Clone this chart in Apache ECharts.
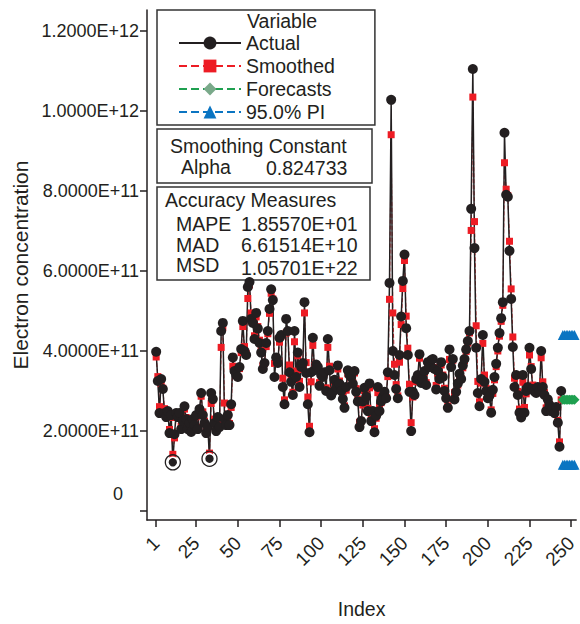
<!DOCTYPE html>
<html><head><meta charset="utf-8">
<script src="https://cdn.jsdelivr.net/npm/echarts@6/dist/echarts.min.js"></script>
<style>html,body{margin:0;padding:0;background:#fff}#c{width:580px;height:624px}</style>
</head><body><div id="c"></div>
<script>
// values in units of 1e11
const actual = [
3.98,3.25,2.45,3.30,3.05,2.45,2.35,2.50,1.95,2.40,
1.22,1.92,2.45,2.35,2.45,2.05,2.25,2.62,2.30,2.05,
2.20,1.98,2.30,2.15,2.40,2.05,2.55,2.95,2.40,2.20,
1.95,2.10,1.31,2.95,2.80,2.20,2.00,2.35,2.10,4.50,
4.70,2.30,2.15,2.40,2.15,2.67,3.84,3.50,3.40,3.35,
3.60,4.05,4.75,4.00,3.90,5.60,5.72,4.80,4.70,4.30,
4.95,4.56,4.20,3.96,3.55,3.70,4.20,4.50,5.05,5.54,
5.27,3.35,3.84,3.70,4.33,4.40,3.10,2.67,4.80,4.50,
3.47,3.23,2.90,4.50,3.35,3.96,3.10,3.60,3.70,5.22,
3.45,2.67,1.97,3.47,4.33,3.52,3.66,3.60,3.13,3.40,
3.35,3.47,3.00,4.30,3.52,2.89,2.98,3.28,3.10,3.64,
3.18,3.00,2.80,2.58,3.10,3.52,3.40,3.35,3.18,3.50,
2.98,2.74,2.10,2.25,2.74,3.08,2.86,2.50,3.19,2.25,
2.50,1.97,2.38,3.10,2.50,2.74,2.86,2.98,2.82,3.47,
5.70,10.27,4.00,3.40,3.05,2.82,3.90,4.86,5.75,6.41,
4.57,3.90,2.98,2.00,2.98,2.90,3.30,3.40,3.92,3.20,
3.30,3.50,3.15,3.72,3.60,3.77,3.80,3.55,3.04,3.50,
3.30,3.72,3.35,3.00,2.82,2.58,4.04,3.60,3.80,2.79,
2.98,3.19,3.43,3.30,3.64,3.80,4.04,4.25,4.50,7.55,
11.04,6.57,4.08,2.95,2.62,3.30,4.40,3.23,3.00,2.82,
2.88,2.46,3.03,3.35,3.68,4.08,4.45,4.82,5.22,9.45,
7.90,7.85,6.50,5.30,4.10,3.10,3.40,2.90,2.46,2.34,
3.40,2.46,3.00,3.10,4.08,3.55,3.05,2.99,2.95,3.10,
3.00,4.00,3.10,2.90,2.50,2.79,2.65,2.50,2.58,2.45,
2.60,2.21,1.61,3.00
];
const smoothed = [
3.85,3.36,2.61,3.18,3.07,2.56,2.39,2.48,2.04,2.34,
1.42,1.83,2.34,2.35,2.43,2.12,2.23,2.55,2.34,2.10,
2.18,2.02,2.25,2.17,2.36,2.10,2.47,2.87,2.48,2.25,
2.00,2.08,1.45,2.69,2.78,2.30,2.05,2.30,2.14,4.09,
4.59,2.70,2.25,2.37,2.19,2.59,3.62,3.52,3.42,3.36,
3.56,3.96,4.61,4.11,3.94,5.31,5.65,4.95,4.74,4.38,
4.85,4.61,4.27,4.01,3.63,3.69,4.11,4.43,4.94,5.44,
5.30,3.69,3.81,3.72,4.22,4.37,3.32,2.78,4.45,4.49,
3.65,3.30,2.97,4.23,3.50,3.88,3.24,3.54,3.67,4.95,
3.71,2.85,2.12,3.23,4.14,3.63,3.66,3.61,3.21,3.37,
3.35,3.45,3.08,4.09,3.62,3.02,2.99,3.23,3.12,3.55,
3.25,3.04,2.84,2.63,3.02,3.43,3.41,3.36,3.21,3.45,
3.06,2.80,2.22,2.25,2.65,3.01,2.89,2.57,3.08,2.40,
2.48,2.06,2.32,2.96,2.58,2.71,2.83,2.95,2.84,3.36,
5.29,9.40,4.95,3.67,3.16,2.88,3.72,4.66,5.56,6.26,
4.87,4.07,3.17,2.21,2.85,2.89,3.23,3.37,3.82,3.31,
3.30,3.47,3.21,3.63,3.61,3.74,3.79,3.59,3.14,3.44,
3.32,3.65,3.40,3.07,2.86,2.63,3.79,3.63,3.77,2.96,
2.98,3.15,3.38,3.31,3.58,3.76,3.99,4.20,4.45,7.01,
10.34,7.23,4.63,3.24,2.73,3.20,4.19,3.40,3.07,2.86,
2.88,2.53,2.94,3.28,3.61,4.00,4.37,4.74,5.14,8.70,
8.04,7.88,6.74,5.55,4.35,3.32,3.39,2.99,2.55,2.38,
3.22,2.59,2.93,3.07,3.90,3.61,3.15,3.02,2.96,3.08,
3.01,3.83,3.23,2.96,2.58,2.75,2.67,2.53,2.57,2.47,
2.58,2.27,1.73,2.78
];
const forecastIndex = [245,246,247,248,249,250,251,252];
const forecasts = [2.78,2.78,2.78,2.78,2.78,2.78,2.78,2.78];
const piUpper = [4.40,4.40,4.40,4.40,4.40,4.40,4.40,4.40];
const piLower = [1.16,1.16,1.16,1.16,1.16,1.16,1.16,1.16];
const circledIndex = [11, 33];
const xTicks = [1,25,50,75,100,125,150,175,200,225,250];
const yTicks = [0,2,4,6,8,10,12];
const unit = 1e11;
const alphaText = ['Smoothing Constant', 'Alpha', '0.824733'];
const accuracyText = ['Accuracy Measures', ['MAPE','1.85570E+01'], ['MAD','6.61514E+10'], ['MSD','1.05701E+22']];

const FONT = "'Liberation Sans', Arial, sans-serif";
const INK = '#231f20';
const RED = '#ed1c24', GREEN = '#1fa050', BLUE = '#0b75c2';

const chart = echarts.init(document.getElementById('c'), null, {renderer: 'svg'});

const actualData = actual.map((v, i) => {
  const idx = i + 1;
  if (circledIndex.includes(idx)) {
    return {value: [idx, v], itemStyle: {borderColor: '#fff', borderWidth: 1.6}};
  }
  return [idx, v];
});
const smoothedData = smoothed.map((v, i) => [i + 1, v]);

const option = {
  animation: false,
  backgroundColor: '#fff',
  textStyle: {fontFamily: FONT},
  grid: {left: 147, right: 0, top: 10, bottom: 94, containLabel: false},
  xAxis: {
    type: 'value', min: -4.5, max: 253,
    axisLine: {show: true, onZero: false, lineStyle: {color: INK, width: 1.5}},
    axisTick: {show: true, length: 7, customValues: xTicks, lineStyle: {color: INK, width: 1.5}},
    axisLabel: {customValues: xTicks, rotate: 45, fontSize: 19, color: INK, margin: 20, fontFamily: FONT},
    splitLine: {show: false},
    name: 'Index', nameLocation: 'middle', nameGap: 79,
    nameTextStyle: {fontSize: 19.5, color: INK, fontFamily: FONT}
  },
  yAxis: {
    type: 'value', min: -0.22, max: 12.514,
    axisLine: {show: true, onZero: false, lineStyle: {color: INK, width: 1.5}},
    axisTick: {show: true, length: 7, customValues: yTicks, lineStyle: {color: INK, width: 1.5}},
    axisLabel: {
      customValues: yTicks, fontSize: 18, color: INK, margin: 8, fontFamily: FONT,
      formatter: v => v === 0 ? '{z|0}' : (v * unit).toExponential(4).toUpperCase(),
      rich: {z: {fontSize: 18, color: INK, fontFamily: FONT, padding: [0, 16, 34, 0]}}
    },
    splitLine: {show: false},
    name: 'Electron concentration', nameLocation: 'middle', nameGap: 110, nameRotate: 90,
    nameTextStyle: {fontSize: 21, color: INK, fontFamily: FONT}
  },
  legend: {
    left: 157, top: 10, orient: 'vertical',
    padding: [23, 40, 3, 21],
    borderColor: '#333', borderWidth: 1.5,
    itemWidth: 62, itemHeight: 16, itemGap: 3,
    textStyle: {fontSize: 19.5, color: INK, fontFamily: FONT},
    data: [
      'Actual', 'Smoothed',
      {name: 'Forecasts', itemStyle: {color: '#7aa98a'}},
      '95.0% PI'
    ]
  },
  graphic: [
    {type: 'text', left: 247, top: 11, style: {text: 'Variable', fontSize: 19.5, fill: INK, fontFamily: FONT}},
    {type: 'rect', shape: {x: 157, y: 129, width: 215, height: 54}, style: {fill: 'none', stroke: '#333', lineWidth: 1.5}},
    {type: 'text', x: 170, y: 136, style: {text: alphaText[0], fontSize: 19.5, fill: INK, fontFamily: FONT}},
    {type: 'text', x: 181, y: 157, style: {text: alphaText[1], fontSize: 19.5, fill: INK, fontFamily: FONT}},
    {type: 'text', x: 266, y: 158, style: {text: alphaText[2], fontSize: 19.5, fill: INK, fontFamily: FONT}},
    {type: 'rect', shape: {x: 157, y: 187, width: 213, height: 93}, style: {fill: 'none', stroke: '#333', lineWidth: 1.5}},
    {type: 'text', x: 165, y: 190, style: {text: accuracyText[0], fontSize: 19.5, fill: INK, fontFamily: FONT}},
    {type: 'text', x: 176, y: 214, style: {text: accuracyText[1][0], fontSize: 19.5, fill: INK, fontFamily: FONT}},
    {type: 'text', x: 241, y: 214, style: {text: accuracyText[1][1], fontSize: 19.5, fill: INK, fontFamily: FONT}},
    {type: 'text', x: 176, y: 235, style: {text: accuracyText[2][0], fontSize: 19.5, fill: INK, fontFamily: FONT}},
    {type: 'text', x: 241, y: 235, style: {text: accuracyText[2][1], fontSize: 19.5, fill: INK, fontFamily: FONT}},
    {type: 'text', x: 176, y: 255, style: {text: accuracyText[3][0], fontSize: 19.5, fill: INK, fontFamily: FONT}},
    {type: 'text', x: 241, y: 258, style: {text: accuracyText[3][1], fontSize: 19.5, fill: INK, fontFamily: FONT}}
  ],
  series: [
    {
      name: 'Smoothed', type: 'line', data: smoothedData,
      symbol: 'rect', symbolSize: 7, showAllSymbol: true,
      lineStyle: {color: RED, width: 1, type: 'dashed'},
      itemStyle: {color: RED, borderWidth: 0}
    },
    {
      name: 'Actual', type: 'line', data: actualData,
      symbol: 'circle', symbolSize: 10, showAllSymbol: true,
      lineStyle: {color: INK, width: 1.5},
      itemStyle: {color: INK, borderWidth: 0},
      markPoint: {
        symbol: 'circle', symbolSize: 15, label: {show: false},
        itemStyle: {color: 'rgba(0,0,0,0)', borderColor: INK, borderWidth: 1.3},
        data: circledIndex.map(idx => ({coord: [idx, actual[idx - 1]]}))
      }
    },
    {
      name: 'Forecasts', type: 'line', data: forecastIndex.map((x, i) => [x, forecasts[i]]),
      symbol: 'diamond', symbolSize: 10, showAllSymbol: true,
      lineStyle: {color: GREEN, width: 1, type: 'dashed'},
      itemStyle: {color: GREEN, borderWidth: 0}
    },
    {
      name: '95.0% PI', type: 'line', data: forecastIndex.map((x, i) => [x, piUpper[i]]),
      symbol: 'triangle', symbolSize: 10, showAllSymbol: true,
      lineStyle: {color: BLUE, width: 1, type: 'dashed'},
      itemStyle: {color: BLUE, borderWidth: 0}
    },
    {
      name: '95.0% PI', type: 'line', data: forecastIndex.map((x, i) => [x, piLower[i]]),
      symbol: 'triangle', symbolSize: 10, showAllSymbol: true,
      lineStyle: {color: BLUE, width: 1, type: 'dashed'},
      itemStyle: {color: BLUE, borderWidth: 0}
    }
  ]
};
chart.setOption(option);
</script>
</body></html>
